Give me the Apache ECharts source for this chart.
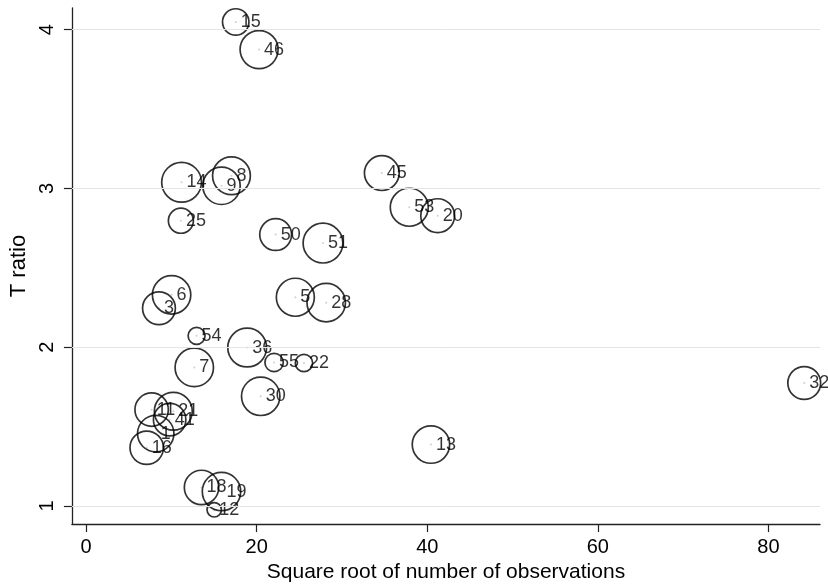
<!DOCTYPE html>
<html>
<head>
<meta charset="utf-8">
<script src="https://cdn.jsdelivr.net/npm/echarts@6/dist/echarts.min.js"></script>
<style>
html,body{margin:0;padding:0;background:#fff;}
#c{width:828px;height:588px;}
</style>
</head>
<body>
<div id="c"></div>
<script>
// Data
var ids = ['15','46','14','8','9','25','6','3','54','36','7','55','22','30','5','28','50','51','11','21','41','1','16','18','19','12','45','53','20','32','13'];
var sqrtObs = [17.54,20.28,11.19,17.04,15.87,11.11,10.02,8.54,12.95,18.88,12.68,22.04,25.54,20.47,24.53,28.15,22.22,27.77,7.68,10.22,9.79,8.16,7.10,13.53,15.87,15.02,34.67,37.89,41.22,84.20,40.43];
var tRatio = [4.048,3.874,3.038,3.079,3.016,2.796,2.329,2.245,2.071,1.997,1.872,1.903,1.900,1.690,2.314,2.280,2.709,2.655,1.606,1.596,1.543,1.455,1.366,1.116,1.090,0.975,3.096,2.881,2.828,1.774,1.386];
var weights = [1.96,3.92,4.28,3.88,3.80,1.77,4.00,2.96,0.86,4.08,4.00,1.00,0.90,4.00,3.92,4.00,2.79,4.28,3.06,3.90,2.89,3.61,3.06,3.24,4.00,0.64,3.31,3.92,3.13,2.96,3.80];
var xTicks = [0,20,40,60,80];
var yTicks = [1,2,3,4];
var xTitle = 'Square root of number of observations';
var yTitle = 'T ratio';

var pts = ids.map(function(id,i){ return [sqrtObs[i], tRatio[i], weights[i], id]; });

var chart = echarts.init(document.getElementById('c'), null, {renderer:'canvas'});
chart.setOption({
  backgroundColor:'#ffffff',
  animation:false,
  grid:{left:70,right:8,top:8,bottom:62,containLabel:false},
  xAxis:{
    type:'value', min:-1.67, max:86.05,
    name:xTitle, nameLocation:'middle', nameGap:33,
    nameTextStyle:{fontFamily:'Liberation Sans, Arial, sans-serif',fontSize:21,color:'#000'},
    axisLine:{show:true,onZero:false,lineStyle:{color:'#222',width:1.3}},
    axisTick:{show:true,length:8,inside:false,customValues:xTicks,lineStyle:{color:'#222',width:1.2}},
    axisLabel:{customValues:xTicks,margin:13,fontFamily:'Liberation Sans, Arial, sans-serif',fontSize:20,color:'#000',showMinLabel:true,showMaxLabel:true},
    splitLine:{show:false}
  },
  yAxis:{
    type:'value', min:0.885, max:4.136,
    name:yTitle, nameLocation:'middle', nameGap:38, nameRotate:90,
    nameTextStyle:{fontFamily:'Liberation Sans, Arial, sans-serif',fontSize:22,color:'#000'},
    axisLine:{show:true,onZero:false,lineStyle:{color:'#222',width:1.3}},
    axisTick:{show:true,length:8,inside:false,customValues:yTicks,lineStyle:{color:'#222',width:1.2}},
    axisLabel:{customValues:yTicks,rotate:90,margin:14,fontFamily:'Liberation Sans, Arial, sans-serif',fontSize:20,color:'#000'},
    splitLine:{show:false}
  },
  series:[
    {
      type:'scatter',
      data:pts,
      symbol:'circle',
      symbolSize:function(v){ return 20*Math.sqrt(v[2]) - 1.6; },
      itemStyle:{color:'rgba(0,0,0,0)',borderColor:'#000',borderWidth:1.7},
      label:{show:true,position:'inside',align:'left',verticalAlign:'middle',offset:[5,0],
        formatter:function(p){return p.value[3];},
        fontFamily:'Liberation Sans, Arial, sans-serif',fontSize:18,color:'#000'},
      emphasis:{disabled:true},
      markLine:{
        silent:true, symbol:['none','none'],
        label:{show:false},
        lineStyle:{color:'#e4e4e4',width:1,type:'solid'},
        data:yTicks.map(function(t){return {yAxis:t};}),
        animation:false
      },
      z:3
    },
    {
      type:'scatter',
      data:pts.map(function(p){return [p[0],p[1]];}),
      symbolSize:2,
      itemStyle:{color:'#c4c4c4'},
      silent:true,
      z:2
    }
  ]
});
</script>
</body>
</html>
